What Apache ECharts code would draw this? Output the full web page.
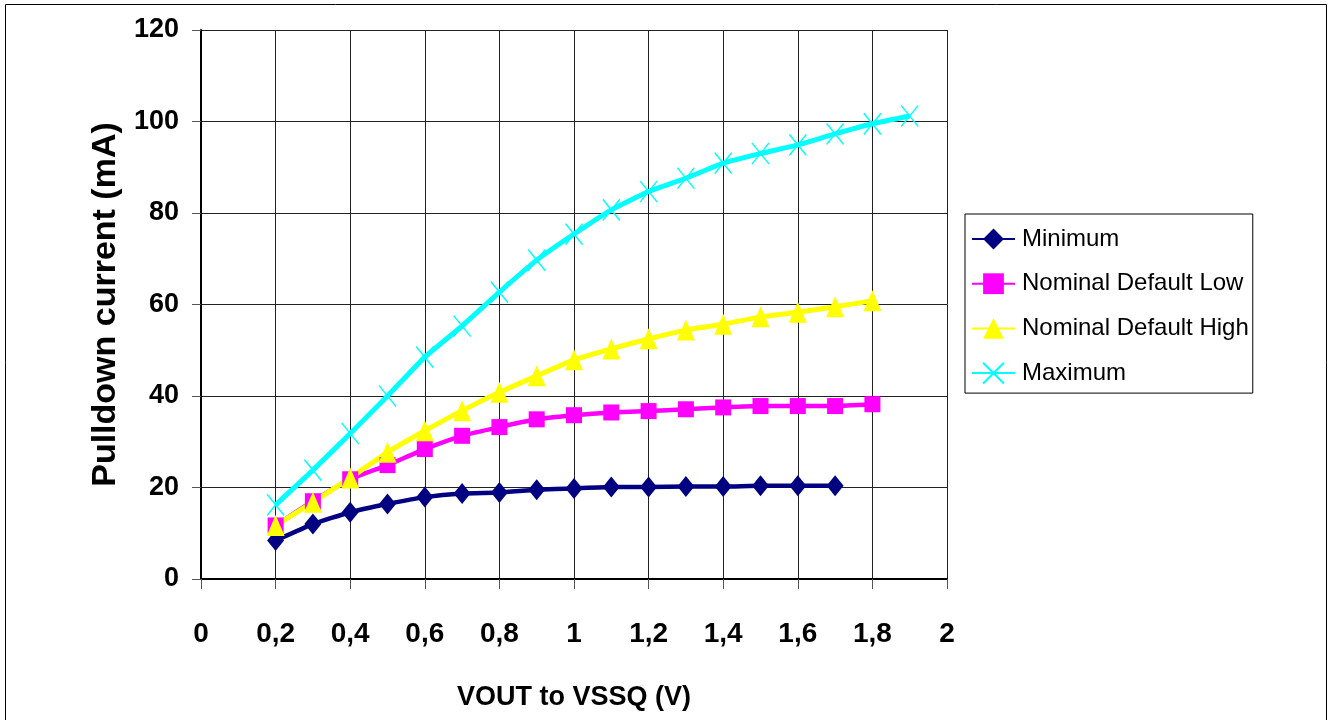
<!DOCTYPE html>
<html>
<head>
<meta charset="utf-8">
<script src="https://cdn.jsdelivr.net/npm/echarts@6/dist/echarts.min.js"></script>
<style>
  html, body { margin: 0; padding: 0; background: #fff; }
  #chart_div { width: 1329px; height: 720px; }
</style>
</head>
<body>
<div id="chart_div"></div>
<script>
// VOUT (V) for each series
const voutMin = [0.2, 0.3, 0.4, 0.5, 0.6, 0.7, 0.8, 0.9, 1.0, 1.1, 1.2, 1.3, 1.4, 1.5, 1.6, 1.7];
const voutNom = [0.2, 0.3, 0.4, 0.5, 0.6, 0.7, 0.8, 0.9, 1.0, 1.1, 1.2, 1.3, 1.4, 1.5, 1.6, 1.7, 1.8];
const voutMax = [0.2, 0.3, 0.4, 0.5, 0.6, 0.7, 0.8, 0.9, 1.0, 1.1, 1.2, 1.3, 1.4, 1.5, 1.6, 1.7, 1.8, 1.9];

// pulldown current (mA)
const minimum = [8.4, 12.0, 14.6, 16.4, 17.9, 18.7, 18.9, 19.5, 19.8, 20.1, 20.1, 20.2, 20.2, 20.4, 20.4, 20.4];
const nominalLow = [11.7, 17.0, 21.8, 24.9, 28.4, 31.3, 33.2, 34.9, 35.8, 36.4, 36.7, 37.1, 37.5, 37.8, 37.8, 37.8, 38.2];
const nominalHigh = [11.7, 16.8, 22.1, 27.7, 32.4, 36.8, 40.8, 44.4, 47.9, 50.3, 52.5, 54.4, 55.7, 57.3, 58.3, 59.5, 60.8];
const maximum = [16.2, 23.8, 31.8, 40.0, 48.5, 55.3, 62.7, 69.7, 75.4, 80.7, 84.7, 87.6, 90.9, 93.0, 94.9, 97.3, 99.5, 101.2];

const seriesNames = ["Minimum", "Nominal Default Low", "Nominal Default High", "Maximum"];

const pairs = (xs, ys) => ys.map((y, i) => [xs[i], y]);

const fontSans = '"Liberation Sans", Arial, sans-serif';

const myChart = echarts.init(document.getElementById("chart_div"));

const option = {
  backgroundColor: "#fff",
  animation: false,
  graphic: [
    {
      type: "rect",
      shape: { x: 5.5, y: 4.5, width: 1321, height: 730 },
      style: { fill: "none", stroke: "#000", lineWidth: 1 },
      silent: true
    }
  ],
  grid: {
    left: 201,
    right: 382,
    top: 30,
    bottom: 141,
    containLabel: false
  },
  legend: {
    orient: "vertical",
    left: 965,
    top: 214,
    padding: [10, 4, 5, 6],
    itemWidth: 43,
    itemHeight: 26,
    itemGap: 14.7,
    borderColor: "#000",
    borderWidth: 1,
    textStyle: {
      fontFamily: fontSans,
      fontSize: 24,
      lineHeight: 30,
      color: "#000",
      padding: [0, 0, 0, 2]
    },
    data: seriesNames
  },
  xAxis: {
    type: "value",
    min: 0,
    max: 2,
    interval: 0.2,
    name: "VOUT to VSSQ (V)",
    nameLocation: "middle",
    nameGap: 105,
    nameTextStyle: {
      fontFamily: fontSans,
      fontWeight: "bold",
      fontSize: 27,
      color: "#000"
    },
    axisLine: { lineStyle: { color: "#000", width: 2 } },
    axisTick: { show: true, length: 10, lineStyle: { color: "#555", width: 1 } },
    axisLabel: {
      margin: 41,
      fontFamily: fontSans,
      fontWeight: "bold",
      fontSize: 28,
      color: "#000",
      formatter: (v) => String(Math.round(v * 10) / 10).replace(".", ",")
    },
    splitLine: { show: true, lineStyle: { color: "#222", width: 1 } }
  },
  yAxis: {
    type: "value",
    min: 0,
    max: 120,
    interval: 20,
    name: "Pulldown current (mA)",
    nameLocation: "middle",
    nameGap: 54,
    nameTextStyle: {
      fontFamily: fontSans,
      fontWeight: "bold",
      fontSize: 34,
      color: "#000"
    },
    axisLine: { show: true, lineStyle: { color: "#000", width: 2 } },
    axisTick: { show: true, length: 9, lineStyle: { color: "#555", width: 1 } },
    axisLabel: {
      margin: 22,
      fontFamily: fontSans,
      fontWeight: "bold",
      fontSize: 27,
      color: "#000"
    },
    splitLine: { show: true, lineStyle: { color: "#222", width: 1 } }
  },
  series: [
    {
      name: seriesNames[0],
      type: "line",
      data: pairs(voutMin, minimum),
      smooth: 0.15,
      symbol: "diamond",
      symbolSize: [17, 21],
      lineStyle: { color: "#000080", width: 4.5 },
      itemStyle: { color: "#000080" }
    },
    {
      name: seriesNames[1],
      type: "line",
      data: pairs(voutNom, nominalLow),
      smooth: 0.15,
      symbol: "rect",
      symbolSize: 16,
      lineStyle: { color: "#FF00FF", width: 4.5 },
      itemStyle: { color: "#FF00FF" }
    },
    {
      name: seriesNames[2],
      type: "line",
      data: pairs(voutNom, nominalHigh),
      smooth: 0.15,
      symbol: "triangle",
      symbolSize: [18, 21],
      lineStyle: { color: "#FFFF00", width: 5 },
      itemStyle: { color: "#FFFF00" }
    },
    {
      name: seriesNames[3],
      type: "line",
      data: pairs(voutMax, maximum),
      smooth: 0.15,
      symbol: "path://M0,0L10,10M10,0L0,10",
      symbolSize: [17, 21],
      lineStyle: { color: "#00FFFF", width: 5 },
      itemStyle: { color: "#00FFFF", borderColor: "#00FFFF", borderWidth: 1.5 }
    }
  ]
};

myChart.setOption(option);
</script>
</body>
</html>
